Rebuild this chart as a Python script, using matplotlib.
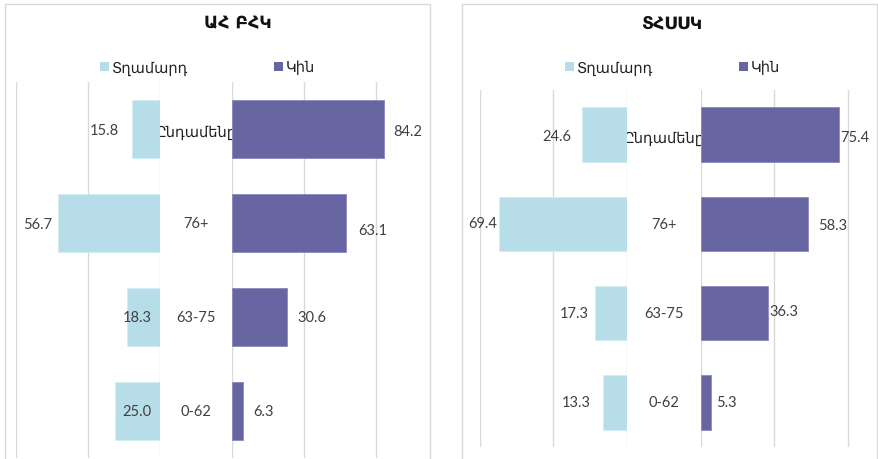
import matplotlib
matplotlib.use('Agg')
import matplotlib.pyplot as plt
from matplotlib.patches import Rectangle, Patch
from matplotlib.transforms import blended_transform_factory

# ---- data ----
categories = ['Ընդամենը', '76+', '63-75', '0-62']
legend_labels = ['Տղամարդ', 'Կին']
titles = ['ԱՀ ԲՀԿ', 'ՏՀՍՍԿ']
left_male = [15.8, 56.7, 18.3, 25.0]
left_female = [84.2, 63.1, 30.6, 6.3]
right_male = [24.6, 69.4, 17.3, 13.3]
right_female = [75.4, 58.3, 36.3, 5.3]
grid_ticks = [0, 40, 80]

# ---- style ----
C_MALE = '#b7dee8'
C_FEMALE = '#6766a2'
C_GRID = '#d9d9d9'
C_TEXT = '#404040'
ARM = ['DejaVu Sans']
NUM = ['Lato', 'DejaVu Sans']

W, H = 879, 460
fig = plt.figure(figsize=(W / 100, H / 100), dpi=100)


def px_axes(x0, y0, x1, y1):
    return fig.add_axes([x0 / W, 1 - y1 / H, (x1 - x0) / W, (y1 - y0) / H])


panels = [
    dict(male=left_male, female=left_female, title=titles[0],
         mx=(16, 160), fx=(232, 394), y=(83, 459), bh=0.62,
         title_x=238, cat_x=196, leg_x=100, box=(5, 430),
         m_off=[(27, 1), (20, 1), (-10, 0), (-22, 0)],
         f_off=[(24, -2), (27, -7), (25, 0), (20, 0)]),
    dict(male=right_male, female=right_female, title=titles[1],
         mx=(480, 627), fx=(701, 866), y=(91, 448), bh=0.61,
         title_x=672, cat_x=664, leg_x=565, box=(462, 877),
         m_off=[(25, 1), (17, -1), (21, 0), (26, 0)],
         f_off=[(16, -2), (25, -1), (16, 2), (16, 0)]),
]

for p in panels:
    # panel border
    bx0, bx1 = p['box']
    fig.patches.append(Rectangle((bx0 / W, 1 - 475 / H), (bx1 - bx0) / W, 470 / H,
                                 transform=fig.transFigure, fill=False,
                                 edgecolor=C_GRID, lw=1.0, zorder=0))

    ax_m = px_axes(p['mx'][0], p['y'][0], p['mx'][1], p['y'][1])
    ax_f = px_axes(p['fx'][0], p['y'][0], p['fx'][1], p['y'][1])
    n = len(categories)
    ypos = list(range(n))
    for ax in (ax_m, ax_f):
        ax.set_facecolor('none')
        for s in ax.spines.values():
            s.set_visible(False)
        ax.set_ylim(n - 0.5, -0.5)
        ax.set_xticks(grid_ticks)
        ax.set_yticks([])
        ax.tick_params(axis='x', length=0, labelbottom=False)
        ax.grid(axis='x', color=C_GRID, lw=1.0)
        ax.set_axisbelow(True)
    ax_m.set_xlim(80, 0)
    ax_f.set_xlim(0, 90)

    ax_m.barh(ypos, p['male'], height=p['bh'], color=C_MALE,
              edgecolor='#d4edf3', lw=0.6, zorder=2)
    ax_f.barh(ypos, p['female'], height=p['bh'], color=C_FEMALE,
              edgecolor='#8a89bc', lw=0.6, zorder=2)

    for i, v in enumerate(p['male']):
        dx, dy = p['m_off'][i]
        ax_m.annotate(f'{v:.1f}', xy=(v, i), xytext=(-dx, -dy),
                      textcoords='offset pixels', ha='center', va='center',
                      fontsize=10.5, family=NUM, color=C_TEXT,
                      annotation_clip=False, zorder=3)
    for i, v in enumerate(p['female']):
        dx, dy = p['f_off'][i]
        ax_f.annotate(f'{v:.1f}', xy=(v, i), xytext=(dx, dy),
                      textcoords='offset pixels', ha='center', va='center',
                      fontsize=10.5, family=NUM, color=C_TEXT,
                      annotation_clip=False, zorder=3)

    # category labels in the gap (drawn under the female bars)
    tr = blended_transform_factory(fig.transFigure, ax_m.transData)
    for i, c in enumerate(categories):
        ax_m.text(p['cat_x'] / W, i + (0.03 if i == 0 else 0), c, transform=tr,
                  ha='center', va='center', fontsize=10.5, family=NUM,
                  color='#222222' if i == 0 else C_TEXT, zorder=1, clip_on=False)

    # title
    fig.text(p['title_x'] / W, 1 - 23 / H, p['title'], ha='center', va='center',
             fontsize=12.5, fontweight='bold', family=ARM, color='#111111')

    # legend
    handles = [Patch(facecolor=C_MALE, label=legend_labels[0]),
               Patch(facecolor=C_FEMALE, label=legend_labels[1])]
    fig.legend(handles=handles, ncol=2, loc='center left',
               bbox_to_anchor=(p['leg_x'] / W, 1 - 68 / H),
               frameon=False, handlelength=0.6, handleheight=0.6,
               handletextpad=0.2, columnspacing=5.9, borderpad=0,
               borderaxespad=0, prop={'family': ARM, 'size': 10.5},
               labelcolor='#222222')

fig.savefig('out.png', dpi=100)
